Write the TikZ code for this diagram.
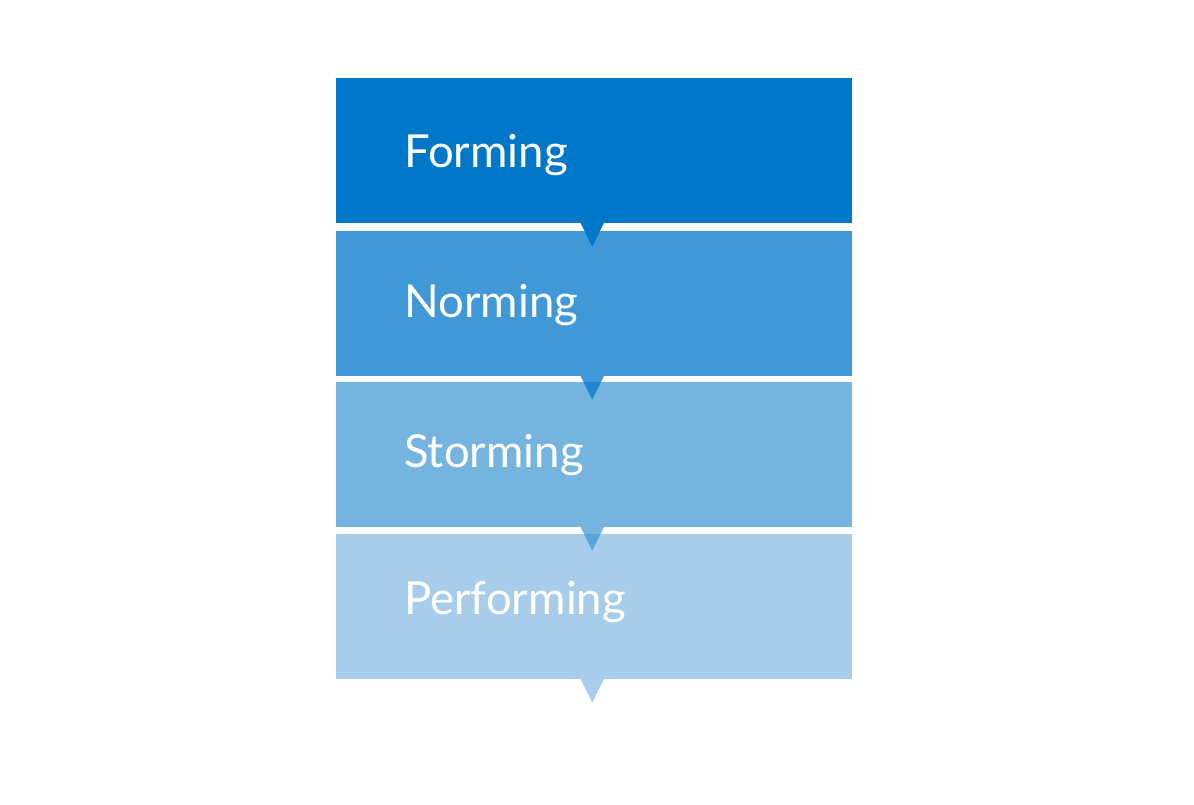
\documentclass[tikz,border=0pt]{standalone}
\usepackage{fontspec}
\setmainfont{Lato}
\definecolor{cA}{HTML}{0077C8}
\definecolor{cB}{HTML}{4198D7}
\definecolor{cC}{HTML}{76B4E0}
\definecolor{cD}{HTML}{A7CDEB}
\definecolor{tB}{HTML}{0478C9}
\definecolor{tC}{HTML}{1E88D1}
\definecolor{tD}{HTML}{58A5DC}
\tikzset{
  stagebox/.style={rectangle, inner sep=0pt, minimum width=516pt, minimum height=145pt, anchor=north west},
  stagetext/.style={anchor=base west, inner sep=0pt, text=white, font=\fontsize{45.5}{48}\selectfont},
}
\newcommand{\tri}[1]{#1 ++(-14,-1) -- ++(24,0) -- ++(-12,24) -- cycle}
\begin{document}
\begin{tikzpicture}[x=1pt,y=-1pt]
\useasboundingbox (0,0) rectangle (1194,804);
\node[stagebox, fill=cA] (b1) at (336,78) {};
\node[stagebox, fill=cB] (b2) at (336,231) {};
\node[stagebox, fill=cC] (b3) at (336,382) {};
\node[stagebox, fill=cD] (b4) at (336,534) {};
% pointers
\fill[cA] \tri{(b1.south)};
\fill[cB] \tri{(b2.south)};
\fill[cC] \tri{(b3.south)};
\fill[cD] \tri{(b4.south)};
\begin{scope}
\clip (b2.north west) rectangle (b2.south east);
\fill[tB] \tri{(b1.south)};
\end{scope}
\begin{scope}
\clip (b3.north west) rectangle (b3.south east);
\fill[tC] \tri{(b2.south)};
\end{scope}
\begin{scope}
\clip (b4.north west) rectangle (b4.south east);
\fill[tD] \tri{(b3.south)};
\end{scope}
\node[stagetext] (t1) at (404,167) {Forming};
\node[stagetext] (t2) at (404,317) {Norming};
\node[stagetext] (t3) at (404,467) {Storming};
\node[stagetext] (t4) at (404,614) {Performing};
\end{tikzpicture}
\end{document}
